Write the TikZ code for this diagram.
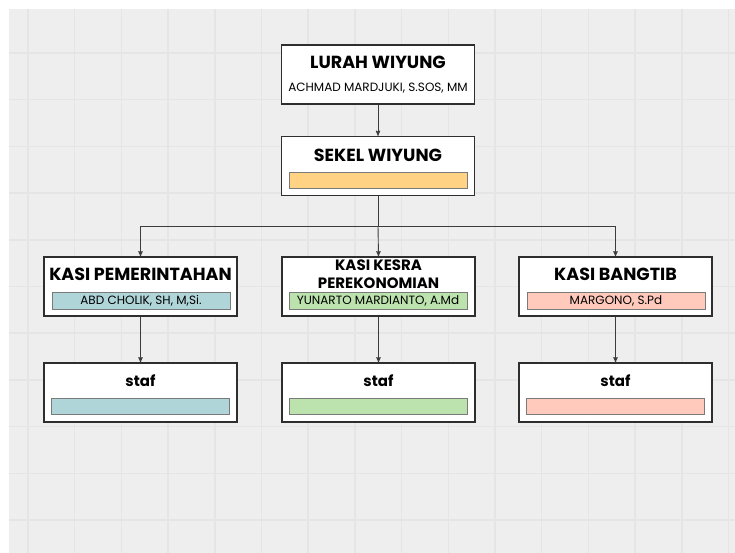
\documentclass[tikz,border=0pt]{standalone}
\usepackage{fontspec}
\setmainfont{Poppins}
\usetikzlibrary{arrows}
\usetikzlibrary{positioning}

\definecolor{latar}{HTML}{EEEEEE}
\definecolor{kisi}{HTML}{E5E5E5}
\definecolor{tepi}{HTML}{2E2E2E}
\definecolor{tepibar}{HTML}{7A7A7A}
\definecolor{panah}{HTML}{3C3C3C}
\definecolor{oranye}{HTML}{FFD383}
\definecolor{biru}{HTML}{B0D5D9}
\definecolor{hijau}{HTML}{BCE3AE}
\definecolor{merah}{HTML}{FFCABC}

\tikzset{
 jabatan/.style={draw=tepi, line width=1.4pt, fill=white, minimum width=193pt, minimum height=59pt, inner sep=0pt},
 judul/.style={font=\fontsize{17.5}{20}\selectfont\bfseries, inner sep=0pt},
 nama/.style={draw=tepibar, line width=0.6pt, minimum width=178pt, minimum height=17pt, inner sep=0pt, font=\fontsize{12}{14}\selectfont},
 garis/.style={draw=panah, line width=0.9pt, ->, >=stealth'},
}

\begin{document}
\begin{tikzpicture} [x=1pt,y=-1pt]
\useasboundingbox (0,0) rectangle (735,553);
\fill[latar] (9,9) rectangle (735,553);
\foreach \x in {0,...,15} {
 \draw[kisi, line width=1.5pt] ({28+46.7*\x},9) --++(0,544);
}
\foreach \y in {0,...,10} {
 \draw[kisi, line width=1.5pt] (9,{53+46.7*\y}) --++(726,0);
}

% lurah dan sekel
\node[jabatan] (lurah) at (378,74.5) {};
\node[judul] (lurahJ) at (378,62) {LURAH WIYUNG};
\node[font=\fontsize{12}{14}\selectfont, inner sep=0pt] (lurahN) at (378,88) {ACHMAD MARDJUKI, S.SOS, MM};
\node[jabatan] (sekel) at (378,166) {};
\node[judul] (sekelJ) at (378,155) {SEKEL WIYUNG};
\node[nama, fill=oranye, minimum height=16pt] (sekelN) at (378.5,180) {};

% kasi
\node[jabatan] (kasiA) at (140.5,286.5) {};
\node[judul] (kasiAJ) at (140.5,274) {KASI PEMERINTAHAN};
\node[nama, fill=biru] (kasiAN) at (141,300.5) {ABD CHOLIK, SH, M,Si.};
\node[jabatan] (kasiB) at (378.5,286.5) {};
\node[judul, font=\fontsize{15}{18}\selectfont\bfseries, align=center] (kasiBJ) at (378.5,274) {KASI KESRA\\PEREKONOMIAN};
\node[nama, fill=hijau] (kasiBN) at (378,300.5) {YUNARTO MARDIANTO, A.Md};
\node[jabatan] (kasiC) at (615.5,286.5) {};
\node[judul] (kasiCJ) at (615.5,274) {KASI BANGTIB};
\node[nama, fill=merah] (kasiCN) at (616,300.5) {MARGONO, S.Pd};

% staf
\foreach \x/\n/\warna in {140.5/A/biru, 378.5/B/hijau, 615.5/C/merah} {
 \node[jabatan] (staf\n) at (\x,392.5) {};
 \node[judul, font=\fontsize{15}{18}\selectfont\bfseries] (staf\n J) at (\x,381) {staf};
 \node[nama, fill=\warna, minimum height=16pt] (staf\n N) at (\x,406) {};
}

% garis
\coordinate (cabang) at (378,226);
\draw[garis] (lurah.south) -- (sekel.north);
\draw[garis,-] (sekel.south) -- (cabang);
\draw[garis] (cabang) -| (kasiA.north);
\draw[garis] (cabang) -- (kasiB.north);
\draw[garis] (cabang) -| (kasiC.north);
\foreach \n in {A,B,C} {
 \draw[garis] (kasi\n.south) -- (staf\n.north);
}
\end{tikzpicture}
\end{document}
